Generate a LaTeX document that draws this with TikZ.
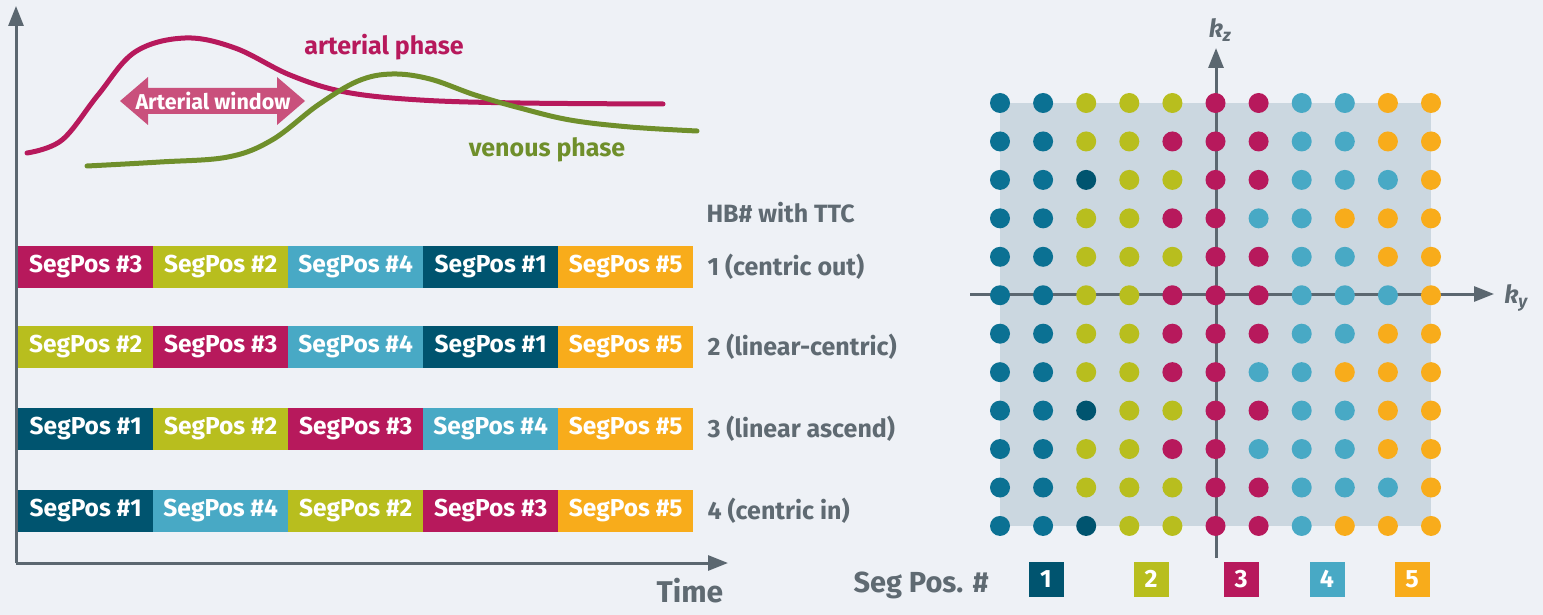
\documentclass[tikz,border=0pt]{standalone}
\usepackage{fontspec}
\setmainfont{Fira Sans}
\usetikzlibrary{arrows.meta}
\definecolor{bg}{HTML}{EEF1F6}
\definecolor{sqbg}{HTML}{CBD7E0}
\definecolor{axisc}{HTML}{5B6770}
\definecolor{txtc}{HTML}{5F6A72}
\definecolor{colT}{HTML}{0B7193}
\definecolor{colN}{HTML}{00546F}
\definecolor{colG}{HTML}{B8BE1E}
\definecolor{colM}{HTML}{B7195C}
\definecolor{colC}{HTML}{48A9C5}
\definecolor{colO}{HTML}{F8AC1B}
\definecolor{art}{HTML}{B7195C}
\definecolor{ven}{HTML}{6F8F2B}
\definecolor{winc}{HTML}{C9507C}
\tikzset{
  axisline/.style={draw=axisc,line width=3pt,-{Triangle[length=20pt,width=15pt]}},
  segbox/.style={anchor=west,minimum width=135pt,minimum height=42pt,inner sep=0pt,text=white,font=\bfseries\fontsize{24.5}{26}\selectfont},
  hbtext/.style={anchor=west,text=txtc,font=\bfseries\fontsize{25}{27}\selectfont},
  legbox/.style={minimum width=35pt,minimum height=35pt,inner sep=0pt,text=white,font=\bfseries\fontsize{25}{27}\selectfont},
  dot/.style={circle,minimum size=20pt,inner sep=0pt},
  klab/.style={text=txtc,font=\bfseries\itshape\fontsize{25}{27}\selectfont},
}
\begin{document}
\begin{tikzpicture}[x=1pt,y=-1pt]
\fill[bg] (0,0) rectangle (1543,615);
\useasboundingbox (0,0) rectangle (1543,615);
% left axes
\coordinate (o) at (16,563);
\coordinate (yt) at (16,6);
\coordinate (xt) at (728,563);
\draw[axisline] (o) -- (yt);
\draw[axisline] (o) -- (xt);
\node[text=txtc,font=\bfseries\fontsize{30}{32}\selectfont] (time) at (690,591) {Time};
% curves
\draw[art,line width=5pt,line cap=round] plot[smooth,tension=0.6] coordinates {(27,153) (62,140) (98,95) (135,52) (185,38) (235,48) (290,75) (345,92) (420,100) (520,103) (663,104)};
\draw[ven,line width=5pt,line cap=round] plot[smooth,tension=0.6] coordinates {(87,166) (160,162) (228,157) (272,140) (318,105) (358,81) (392,74) (430,79) (475,95) (520,108) (570,120) (630,127) (697,131)};
\node[text=art,font=\bfseries\fontsize{25}{27}\selectfont] (artl) at (384,47) {arterial phase};
\node[text=ven,font=\bfseries\fontsize{25}{27}\selectfont] (venl) at (547,150) {venous phase};
% arterial window
\fill[winc] (120,101) -- (148,77) -- (148,88) -- (277,88) -- (277,77) -- (305,101) -- (277,125) -- (277,114) -- (148,114) -- (148,125) -- cycle;
\node[text=white,font=\bfseries\fontsize{21.5}{23}\selectfont] (win) at (213,101) {Arterial window};
% bars
\node[hbtext] (hb) at (703,213) {HB\# with TTC};
\foreach \row/\yy/\lab [count=\r] in {{M/3,G/2,C/4,N/1,O/5}/267/1 (centric out),{G/2,M/3,C/4,N/1,O/5}/347/2 (linear-centric),{N/1,G/2,M/3,C/4,O/5}/429/3 (linear ascend),{N/1,C/4,G/2,M/3,O/5}/511/4 (centric in)} {
  \foreach \c/\n [count=\k] in \row {
    \pgfmathsetmacro{\xx}{18+135*(\k-1)}
    \node[segbox,fill=col\c] (b\r-\k) at (\xx,\yy) {SegPos \#\n};
  }
  \node[hbtext] (hb\r) at (704,\yy) {\lab};
}
% k-space
\fill[sqbg] (1000,103) rectangle (1431,526);
\coordinate (kyl) at (970,294);
\coordinate (kyr) at (1494,294);
\coordinate (kzb) at (1216,558);
\coordinate (kzt) at (1216,48);
\draw[axisline] (kyl) -- (kyr);
\draw[axisline] (kzb) -- (kzt);
\node[klab] (kz) at (1220,30) {k\textsubscript{z}};
\node[klab] (ky) at (1516,298) {k\textsubscript{y}};
\foreach \row [count=\r] in {
 {T,T,G,G,G,M,M,C,C,O,O},
 {T,T,G,G,M,M,M,C,C,O,O},
 {T,T,N,G,G,M,M,C,C,C,O},
 {T,T,G,G,M,M,C,C,O,O,O},
 {T,T,G,G,G,M,M,C,C,O,O},
 {T,T,G,G,M,M,M,C,C,C,O},
 {T,T,G,G,M,M,M,C,C,O,O},
 {T,T,G,G,M,M,C,C,O,O,O},
 {T,T,N,G,G,M,M,C,C,O,O},
 {T,T,G,G,M,M,C,C,C,O,O},
 {T,T,G,G,G,M,M,C,C,C,O},
 {T,T,N,G,G,M,M,C,O,O,O}} {
  \foreach \c [count=\k] in \row {
    \pgfmathsetmacro{\xx}{1000+43.1*(\k-1)}
    \pgfmathsetmacro{\yy}{103+38.45*(\r-1)}
    \node[dot,fill=col\c] (d\r-\k) at (\xx,\yy) {};
  }
}
% legend
\node[text=txtc,font=\bfseries\fontsize{29}{31}\selectfont,anchor=west] (seg) at (850,585) {Seg Pos. \#};
\node[legbox,fill=colN] (l1) at (1046,579) {1};
\node[legbox,fill=colG] (l2) at (1151,579) {2};
\node[legbox,fill=colM] (l3) at (1241,579) {3};
\node[legbox,fill=colC] (l4) at (1327,579) {4};
\node[legbox,fill=colO] (l5) at (1412,579) {5};
\end{tikzpicture}
\end{document}
